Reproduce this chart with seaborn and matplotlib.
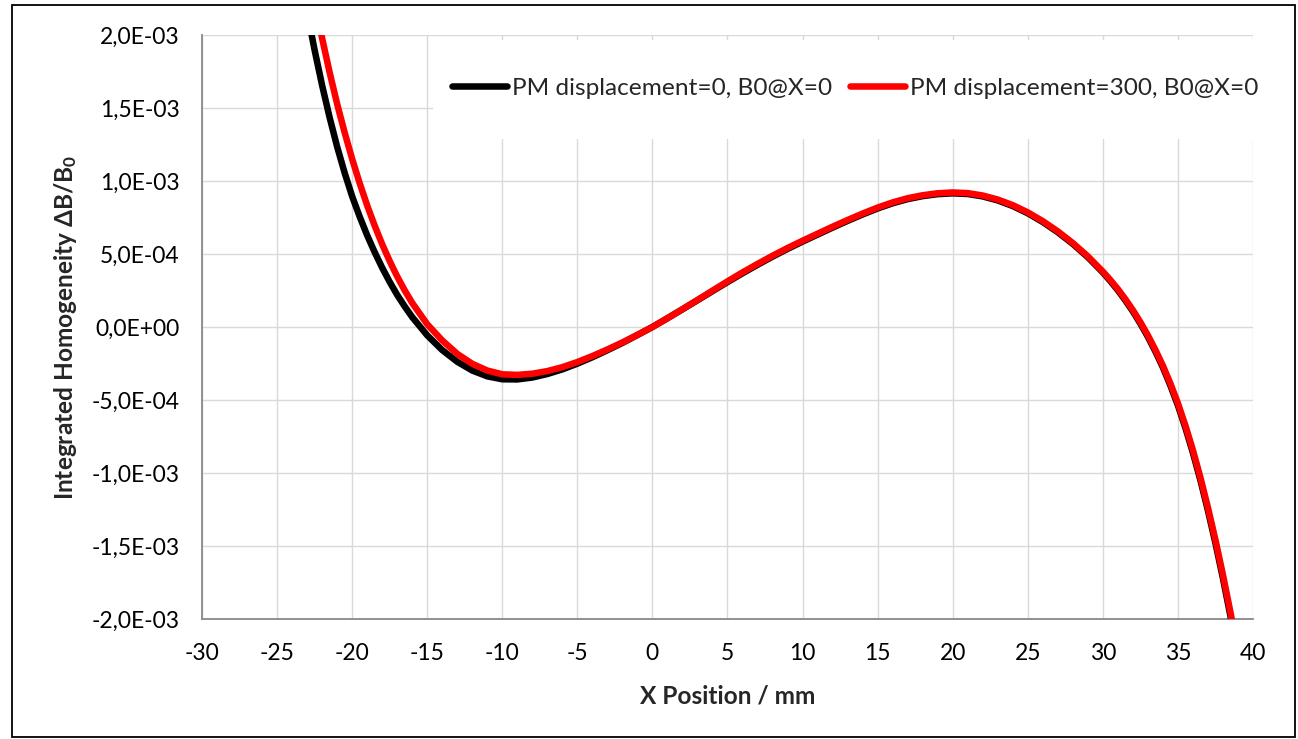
import matplotlib
matplotlib.use("Agg")
import matplotlib.pyplot as plt
from matplotlib.patches import Rectangle
import numpy as np
import pandas as pd
import seaborn as sns

# Integrated field homogeneity along X (values in units of 1e-4)
x_mm = [
    -23, -22.5, -22, -21.5, -21, -20.5, -20, -19.5, -19, -18.5, -18, -17.5, -17, -16.5, -16,
    -15, -14, -13, -12, -11, -10, -9, -8, -7, -6, -5, -4, -3, -2, -1,
    0, 1, 2, 3, 4, 5, 6, 7, 8, 9, 10, 11, 12, 13, 14, 15, 16, 17, 18, 19,
    20, 21, 22, 23, 24, 25, 26, 27, 28, 29,
    30, 30.5, 31, 31.5, 32, 32.5, 33, 33.5, 34, 34.5, 35, 35.5, 36, 36.5, 37, 37.5, 38, 38.5, 39,
]
homog_pm0 = [
    21.6, 18.97, 16.55, 14.35, 12.35, 10.56, 8.95, 7.56, 6.28, 5.125, 4.06, 3.09, 2.20, 1.41, 0.68,
    -0.57, -1.58, -2.38, -2.98, -3.38, -3.58, -3.59, -3.46, -3.22, -2.90, -2.51, -2.07, -1.59, -1.09, -0.55,
    0.00, 0.60, 1.21, 1.83, 2.455, 3.075, 3.68, 4.26, 4.82, 5.35, 5.85, 6.33, 6.81, 7.27, 7.71, 8.12,
    8.475, 8.76, 8.965, 9.10,
    9.155, 9.11, 8.945, 8.67, 8.285, 7.79, 7.19, 6.49, 5.69, 4.78,
    3.735, 3.147, 2.515, 1.819, 1.065, 0.231, -0.675, -1.68, -2.775, -4.013, -5.375, -6.919, -8.625,
    -10.51, -12.575, -14.81, -17.225, -19.81, -22.575,
]
homog_pm300 = [
    25.1, 22.34, 19.78, 17.44, 15.28, 13.32, 11.51, 9.855, 8.33, 6.94, 5.67, 4.515, 3.46, 2.51, 1.65,
    0.19, -0.92, -1.84, -2.52, -2.98, -3.24, -3.28, -3.20, -3.02, -2.75, -2.40, -1.99, -1.54, -1.06, -0.54,
    0.00, 0.60, 1.22, 1.85, 2.49, 3.125, 3.74, 4.32, 4.88, 5.41, 5.91, 6.39, 6.87, 7.33, 7.77, 8.18,
    8.535, 8.82, 9.025, 9.16,
    9.215, 9.17, 9.005, 8.73, 8.345, 7.85, 7.25, 6.55, 5.75, 4.84,
    3.795, 3.217, 2.595, 1.904, 1.155, 0.326, -0.575, -1.57, -2.655, -3.878, -5.225, -6.754, -8.445,
    -10.32, -12.375, -14.59, -16.985, -19.55, -22.295,
]
series_names = ["PM displacement=0, B0@X=0", "PM displacement=300, B0@X=0"]
series_colors = ["#000000", "#ff0000"]

x_ticks = list(range(-30, 45, 5))
x_ticklabels = [str(v) for v in x_ticks]
y_ticks = [-2.0e-3, -1.5e-3, -1.0e-3, -5.0e-4, 0.0, 5.0e-4, 1.0e-3, 1.5e-3, 2.0e-3]
y_ticklabels = ["-2,0E-03", "-1,5E-03", "-1,0E-03", "-5,0E-04", "0,0E+00",
                "5,0E-04", "1,0E-03", "1,5E-03", "2,0E-03"]

scale = 1e-4
df = pd.concat([
    pd.DataFrame({"x": x_mm, "y": np.array(homog_pm0) * scale, "series": series_names[0]}),
    pd.DataFrame({"x": x_mm, "y": np.array(homog_pm300) * scale, "series": series_names[1]}),
], ignore_index=True)

sns.set_theme(style="white")
plt.rcParams["font.family"] = ["Lato", "DejaVu Sans"]
plt.rcParams["mathtext.default"] = "regular"

W, H = 1298, 739
fig = plt.figure(figsize=(W / 100, H / 100), dpi=100)
ax = fig.add_axes([202 / W, 1 - 619 / H, (1253 - 202) / W, (619 - 35) / H])

sns.lineplot(data=df, x="x", y="y", hue="series", palette=dict(zip(series_names, series_colors)),
             sort=False, estimator=None, linewidth=4.7, ax=ax, legend=False, zorder=3)
for ln in ax.get_lines():
    ln.set_solid_capstyle("round")
    ln.set_solid_joinstyle("round")

ax.set_xlim(-30, 40)
ax.set_ylim(-2.0e-3, 2.0e-3)
ax.set_xticks(x_ticks)
ax.set_xticklabels(x_ticklabels)
ax.set_yticks(y_ticks)
ax.set_yticklabels(y_ticklabels)

ax.set_axisbelow(True)
ax.grid(True, color="#d9d9d9", linewidth=1.0)
for side in ["top", "right"]:
    ax.spines[side].set_visible(False)
for side in ["left", "bottom"]:
    ax.spines[side].set_color("#898989")
    ax.spines[side].set_linewidth(1.3)
ax.tick_params(axis="both", which="major", direction="out", length=6, width=1.2,
               color="#898989", labelsize=16.5, labelcolor="#000000")
ax.tick_params(axis="x", pad=11)
ax.tick_params(axis="y", pad=10)

ax.set_xlabel("X Position / mm", fontsize=17.6, fontweight="bold", labelpad=15)
ax.set_ylabel("Integrated Homogeneity ΔB/B$_0$", fontsize=17.6, fontweight="bold", labelpad=9)

# white legend panel covering the gridlines
ax.add_patch(Rectangle((0.2198, 0.8219), 0.7945, 0.1695, transform=ax.transAxes,
                       facecolor="white", edgecolor="none", zorder=1, clip_on=False))
handles = [plt.Line2D([], [], color=c, linewidth=4.7, solid_capstyle="round") for c in series_colors]
ax.legend(handles, series_names, loc="center left", bbox_to_anchor=(0.2379, 0.9092),
          ncol=2, frameon=False, fontsize=17.6, handlelength=2.25, handletextpad=0.2,
          columnspacing=0.74, borderpad=0, borderaxespad=0)

# outer chart frame
fig.add_artist(Rectangle((12 / W, 2 / H), (1295 - 12) / W, (734 - 2) / H, transform=fig.transFigure,
                         facecolor="none", edgecolor="#000000", linewidth=1.3))

fig.savefig("out.png", dpi=100)
